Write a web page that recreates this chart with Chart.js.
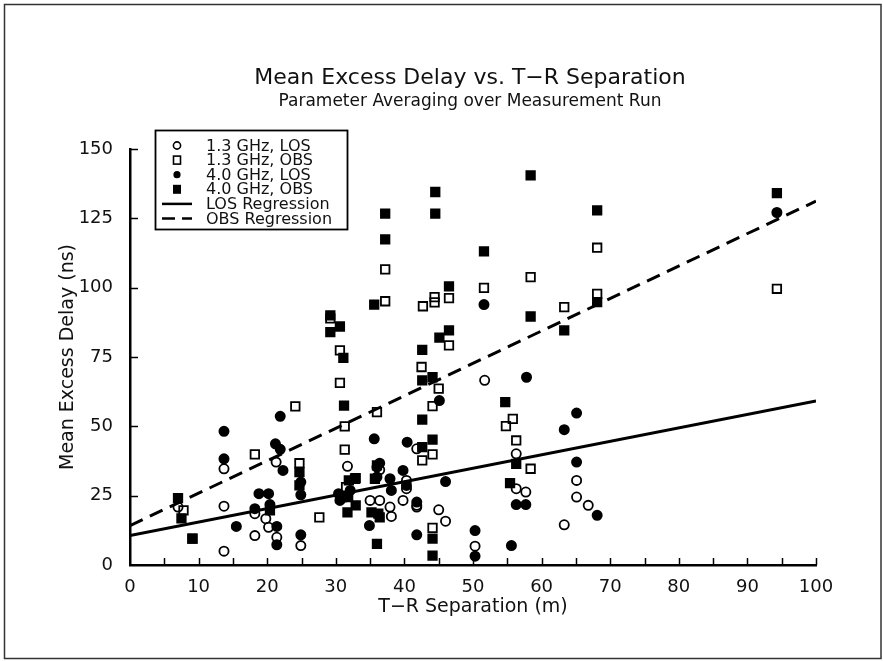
<!DOCTYPE html>
<html><head><meta charset="utf-8">
<script src="https://cdn.jsdelivr.net/npm/chart.js@4.4.0/dist/chart.umd.min.js"></script>
<style>html,body{margin:0;padding:0;background:#fff;}canvas{display:block;}</style>
</head><body>
<canvas id="c" width="883" height="661"></canvas>
<script>
const titleText = "Mean Excess Delay vs. T\u2212R Separation";
const subtitleText = "Parameter Averaging over Measurement Run";
const xAxisTitle = "T\u2212R Separation (m)";
const yAxisTitle = "Mean Excess Delay (ns)";
const seriesNames = ["1.3 GHz, LOS", "1.3 GHz, OBS", "4.0 GHz, LOS", "4.0 GHz, OBS", "LOS Regression", "OBS Regression"];

const xTickLabels = [0, 10, 20, 30, 40, 50, 60, 70, 80, 90, 100];
const yTickLabels = [0, 25, 50, 75, 100, 125, 150];
const xTickMarks = [5, 10, 15, 20, 25, 30, 35, 40, 45, 50, 55, 60, 65, 70, 75, 80, 85, 90, 95, 100];
const yTickMarks = [25, 50, 75, 100, 125, 150];

// 1.3 GHz, LOS (open circles)
const los13X = [7.0,13.7,13.7,13.7,18.2,18.2,19.8,20.2,21.4,21.3,24.9,31.7,31.3,35.0,36.4,36.4,37.9,38.1,39.8,40.3,40.3,41.8,41.8,41.8,45.0,46.0,50.3,51.7,56.3,56.3,57.7,65.1,65.1,66.8,63.3];
const los13Y = [20.9,34.7,21.2,5.0,18.5,10.6,16.7,13.6,10.0,37.1,7.0,35.6,24.5,23.3,23.3,34.3,20.9,17.5,23.3,30.5,27.5,21.5,41.9,20.9,19.9,15.8,6.8,66.6,40.1,27.5,26.3,30.5,24.5,21.5,14.5];
// 1.3 GHz, OBS (open squares)
const obs13X = [7.8,9.1,18.2,24.1,24.7,27.6,29.2,30.6,30.6,31.3,31.3,31.5,32.9,36.0,37.2,37.2,44.4,44.4,42.7,46.5,46.5,42.5,45.0,44.1,44.1,42.6,44.1,51.6,58.4,63.3,68.1,68.1,55.8,54.8,56.3,58.4,94.3];
const obs13Y = [19.7,9.5,39.9,57.2,36.7,17.2,88.9,77.4,65.7,50.0,41.6,28.1,31.3,55.1,106.6,95.1,96.6,94.7,93.3,96.2,79.2,71.4,63.6,57.3,39.9,37.7,13.4,99.9,103.8,93.0,114.4,97.8,52.7,50.1,44.9,34.7,99.6];
// 4.0 GHz, LOS (filled circles)
const los40X = [13.7,13.7,15.5,18.2,18.8,20.2,20.4,21.4,21.4,21.2,21.9,21.9,22.3,24.9,24.9,24.9,30.4,30.6,35.6,34.9,36.0,36.4,36.0,37.9,38.1,39.8,40.3,40.4,41.8,41.8,45.1,46.0,50.3,50.3,51.6,57.8,56.3,57.7,55.6,63.3,65.1,65.1,68.1,94.3,32.1];
const los40Y = [48.2,38.3,13.9,20.3,25.7,25.7,21.8,13.9,7.3,43.7,41.7,53.6,34.1,29.9,25.3,10.9,25.7,23.3,45.5,14.2,35.3,36.7,31.7,31.1,26.9,34.1,28.7,44.3,22.7,10.9,59.3,30.1,12.4,3.2,93.9,67.7,21.8,21.8,7.0,48.8,54.8,37.1,17.9,127.1,26.9];
// 4.0 GHz, OBS (filled squares)
const obs40X = [7.0,7.5,9.1,20.4,24.7,24.7,29.2,29.2,30.6,31.1,31.2,31.9,31.7,32.8,32.9,31.8,35.6,37.2,37.2,36.0,35.7,35.2,36.2,36.4,36.0,44.5,44.5,46.5,46.5,45.1,42.6,42.6,44.1,42.6,44.1,42.6,44.1,44.1,51.6,54.7,56.3,55.4,58.4,68.1,68.1,58.4,63.3,94.3];
const obs40Y = [24.1,16.8,9.5,19.7,33.5,28.7,90.0,84.0,86.0,74.7,57.5,30.5,19.0,31.1,21.5,24.5,93.9,126.7,117.4,35.9,31.1,19.0,18.5,17.2,7.6,134.5,126.7,100.5,84.6,82.0,77.6,66.6,67.7,52.4,45.2,42.5,9.5,3.4,113.1,58.7,36.5,29.5,140.5,127.9,94.8,89.6,84.6,134.1];
// Regression lines (end points)
const regX = [0, 100];
const losRegY = [10.6, 59.1];
const obsRegY = [14.2, 131.2];

const FONT = "'DejaVu Sans', sans-serif";
const INK = '#111';
const pts = (xs, ys) => xs.map((x, i) => ({x: x, y: ys[i]}));

const styles = [
  {shape: 'circle', fill: false},
  {shape: 'rect', fill: false},
  {shape: 'circle', fill: true},
  {shape: 'rect', fill: true},
  {shape: 'line', dash: []},
  {shape: 'line', dash: [14, 8]}
];

function pointDs(label, data, st, order) {
  return {
    label: label, data: data, showLine: false, order: order,
    pointStyle: st.shape,
    pointRadius: st.shape === 'rect' ? 6.0 : 4.6,
    pointBorderWidth: 1.8,
    pointBorderColor: '#000',
    pointBackgroundColor: st.fill ? '#000' : 'rgba(0,0,0,0)'
  };
}
function lineDs(label, data, st, order) {
  return {
    label: label, data: data, showLine: true, order: order,
    borderColor: '#000', borderWidth: 3, borderDash: st.dash,
    pointRadius: 0, fill: false, tension: 0
  };
}

const overlay = {
  id: 'overlay',
  afterDraw(chart) {
    const {ctx, chartArea: a, scales: {x, y}} = chart;
    ctx.save();
    // outer frame
    ctx.strokeStyle = '#333'; ctx.lineWidth = 1.5;
    ctx.strokeRect(4.5, 4.5, 876.5, 654);
    // inner tick marks
    ctx.strokeStyle = '#000'; ctx.lineWidth = 1.5;
    xTickMarks.forEach(v => {
      const px = Math.round(x.getPixelForValue(v)) + 0.5;
      ctx.beginPath(); ctx.moveTo(px, a.bottom); ctx.lineTo(px, a.bottom - 7); ctx.stroke();
    });
    yTickMarks.forEach(v => {
      const py = Math.round(y.getPixelForValue(v)) + 0.5;
      ctx.beginPath(); ctx.moveTo(a.left, py); ctx.lineTo(a.left + 8, py); ctx.stroke();
    });
    // titles
    const cx = (a.left + a.right) / 2 - 3;
    ctx.fillStyle = INK; ctx.textAlign = 'center'; ctx.textBaseline = 'middle';
    ctx.font = "22px " + FONT; ctx.fillText(titleText, cx, 78);
    ctx.font = "17px " + FONT; ctx.fillText(subtitleText, cx, 102);
    // legend
    const bx = 155.5, by = 130.5, bw = 192, bh = 99;
    ctx.fillStyle = '#fff'; ctx.fillRect(bx, by, bw, bh);
    ctx.strokeStyle = '#000'; ctx.lineWidth = 1.8; ctx.strokeRect(bx, by, bw, bh);
    ctx.font = "16px " + FONT; ctx.textAlign = 'left'; ctx.textBaseline = 'middle';
    const mx = 177, tx = 206;
    seriesNames.forEach((name, i) => {
      const st = styles[i];
      const ry = 145.5 + i * 14.6;
      ctx.strokeStyle = '#000'; ctx.fillStyle = '#000';
      if (st.shape === 'circle') {
        ctx.lineWidth = 1.6; ctx.beginPath(); ctx.arc(mx, ry, 3.6, 0, Math.PI * 2);
        if (st.fill) ctx.fill(); else ctx.stroke();
      } else if (st.shape === 'rect') {
        ctx.lineWidth = 1.6;
        if (st.fill) ctx.fillRect(mx - 4, ry - 4.5, 8, 9); else ctx.strokeRect(mx - 3.5, ry - 4, 7, 8);
      } else {
        ctx.lineWidth = 2.5; ctx.setLineDash(st.dash.length ? [13, 7] : []);
        ctx.beginPath(); ctx.moveTo(162, ry); ctx.lineTo(192, ry); ctx.stroke();
        ctx.setLineDash([]);
      }
      ctx.fillStyle = INK; ctx.fillText(name, tx, ry + 1);
    });
    ctx.restore();
  }
};

new Chart(document.getElementById('c').getContext('2d'), {
  type: 'scatter',
  data: {
    datasets: [
      pointDs(seriesNames[0], pts(los13X, los13Y), styles[0], 3),
      pointDs(seriesNames[1], pts(obs13X, obs13Y), styles[1], 2),
      pointDs(seriesNames[2], pts(los40X, los40Y), styles[2], 1),
      pointDs(seriesNames[3], pts(obs40X, obs40Y), styles[3], 0),
      lineDs(seriesNames[4], pts(regX, losRegY), styles[4], -1),
      lineDs(seriesNames[5], pts(regX, obsRegY), styles[5], -2)
    ]
  },
  options: {
    responsive: false, animation: false, devicePixelRatio: 1,
    layout: {padding: {left: 0, right: 67, top: 149, bottom: 0}},
    plugins: {legend: {display: false}, title: {display: false}, tooltip: {enabled: false}},
    scales: {
      x: {
        type: 'linear', min: 0, max: 100,
        afterBuildTicks: s => { s.ticks = xTickLabels.map(v => ({value: v})); },
        afterFit: s => { s.height = 96; },
        ticks: {font: {family: FONT, size: 18}, color: INK, padding: 4, maxRotation: 0, autoSkip: false},
        grid: {display: false},
        border: {display: true, color: '#000', width: 2.5},
        title: {display: true, text: xAxisTitle, color: INK, font: {family: FONT, size: 19}, padding: {top: 0, bottom: 43}}
      },
      y: {
        type: 'linear', min: 0, max: 150,
        afterBuildTicks: s => { s.ticks = yTickLabels.map(v => ({value: v})); },
        afterFit: s => { s.width = 130; },
        ticks: {font: {family: FONT, size: 18}, color: INK, padding: 9, autoSkip: false},
        grid: {display: false},
        border: {display: true, color: '#000', width: 2.5},
        title: {display: true, text: yAxisTitle, color: INK, font: {family: FONT, size: 19}, padding: {top: 57, bottom: 0}}
      }
    }
  },
  plugins: [overlay]
});
</script>
</body></html>
